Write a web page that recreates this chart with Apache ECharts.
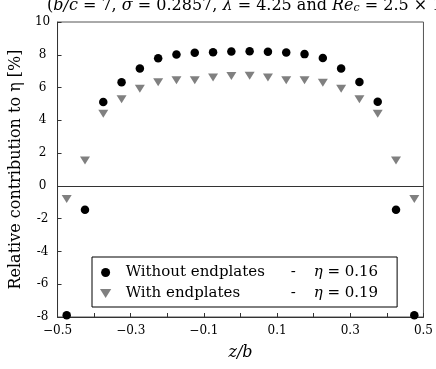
<!DOCTYPE html>
<html>
<head>
<meta charset="utf-8">
<script src="https://cdn.jsdelivr.net/npm/echarts@6/dist/echarts.min.js"></script>
<style>
  html, body { margin: 0; padding: 0; background: #fff; }
  #chart { width: 436px; height: 369px; }
</style>
</head>
<body>
<div id="chart"></div>
<script>
// Spanwise positions z/b of the measurement stations
const zPos = [-0.475, -0.425, -0.375, -0.325, -0.275, -0.225, -0.175, -0.125, -0.075, -0.025,
              0.025, 0.075, 0.125, 0.175, 0.225, 0.275, 0.325, 0.375, 0.425, 0.475];

// Relative contribution to eta [%]
const withoutEndplates = [-7.9, -1.45, 5.12, 6.32, 7.16, 7.79, 8.01, 8.12, 8.16, 8.2,
                          8.22, 8.18, 8.14, 8.04, 7.81, 7.16, 6.34, 5.14, -1.45, -7.9];
const withEndplates = [-0.8, 1.55, 4.4, 5.28, 5.92, 6.32, 6.44, 6.44, 6.61, 6.71,
                       6.72, 6.61, 6.44, 6.44, 6.3, 5.92, 5.28, 4.4, 1.55, -0.8];

const seriesNames = ["Without endplates", "With endplates"];
const etaValues = ["0.16", "0.19"];

const FONT = "DejaVu Serif";
const downTriangle = "path://M0,0 L10,0 L5,8 Z";

const chart = echarts.init(document.getElementById("chart"));

chart.setOption({
  animation: false,
  backgroundColor: "#fff",
  title: {
    left: 42,
    top: -9,
    text: "({i|b/c} = 7, {i|σ} = 0.2857, {i|λ} = 4.25 and {i|Re}{s|c} = 2.5 × 10{p|5})",
    textStyle: {
      fontFamily: FONT, fontSize: 16, fontWeight: "normal", color: "#000",
      rich: {
        i: { fontFamily: FONT, fontSize: 16, fontStyle: "italic", color: "#000" },
        s: { fontFamily: FONT, fontSize: 11, fontStyle: "italic", color: "#000", padding: [6, 0, 0, 0] },
        p: { fontFamily: FONT, fontSize: 11, color: "#000", padding: [0, 0, 8, 0] }
      }
    }
  },
  grid: { left: 57, right: 5, top: 22, bottom: 52, show: true, borderColor: "#555", borderWidth: 1 },
  legend: {
    orient: "vertical",
    left: 92,
    top: 257,
    padding: [7, 19, 5, 8],
    itemGap: 4,
    itemWidth: 20,
    itemHeight: 9,
    borderColor: "#000",
    borderWidth: 1,
    backgroundColor: "#fff",
    data: seriesNames,
    formatter: (name) => {
      const eta = etaValues[seriesNames.indexOf(name)];
      return `{a|${name}}{b|-}{e|η}{c| = ${eta}}`;
    },
    textStyle: {
      fontFamily: FONT, fontSize: 15, color: "#000", lineHeight: 17,
      rich: {
        a: { fontFamily: FONT, fontSize: 15, color: "#000", width: 160, padding: [0, 0, 0, 5] },
        b: { fontFamily: FONT, fontSize: 15, color: "#000", width: 23, padding: [0, 0, 0, 5] },
        e: { fontFamily: FONT, fontSize: 15, color: "#000", fontStyle: "italic" },
        c: { fontFamily: FONT, fontSize: 15, color: "#000" }
      }
    }
  },
  xAxis: {
    type: "value",
    min: -0.5,
    max: 0.5,
    interval: 0.1,
    name: "z/b",
    nameLocation: "middle",
    nameGap: 28,
    nameTextStyle: { fontFamily: FONT, fontSize: 16, fontStyle: "italic", color: "#000" },
    axisLine: { onZero: false, lineStyle: { color: "#333", width: 1 } },
    axisTick: { inside: true, length: 4, lineStyle: { color: "#333" } },
    splitLine: { show: false },
    axisLabel: {
      fontFamily: FONT, fontSize: 12, color: "#000", margin: 8,
      showMaxLabel: true, showMinLabel: true, alignMinLabel: "center", alignMaxLabel: "center",
      formatter: (v) => {
        const k = Math.round(v * 10);
        if (k % 2 === 0) return "";
        return (k < 0 ? "−" : "") + Math.abs(k / 10).toFixed(1);
      }
    }
  },
  yAxis: {
    type: "value",
    min: -8,
    max: 10,
    interval: 2,
    name: "Relative contribution to η [%]",
    nameLocation: "middle",
    nameGap: 30,
    nameTextStyle: { fontFamily: FONT, fontSize: 16, color: "#000" },
    axisLine: { show: true, onZero: false, lineStyle: { color: "#333", width: 1 } },
    axisTick: { show: true, inside: true, length: 4, lineStyle: { color: "#333" } },
    splitLine: { show: false },
    axisLabel: { fontFamily: FONT, fontSize: 12, color: "#000", margin: 15, align: "center" }
  },
  series: [
    {
      name: seriesNames[0],
      type: "scatter",
      symbol: "circle",
      symbolSize: 8.5,
      itemStyle: { color: "#000", opacity: 1 },
      data: zPos.map((z, i) => [z, withoutEndplates[i]]),
      markLine: {
        silent: true,
        symbol: "none",
        label: { show: false },
        lineStyle: { color: "#333", width: 1, type: "solid" },
        data: [{ yAxis: 0 }]
      },
      z: 3
    },
    {
      name: seriesNames[1],
      type: "scatter",
      symbol: downTriangle,
      symbolSize: [10, 8],
      itemStyle: { color: "#808080", opacity: 1 },
      data: zPos.map((z, i) => [z, withEndplates[i]]),
      z: 2
    }
  ]
});
</script>
</body>
</html>
